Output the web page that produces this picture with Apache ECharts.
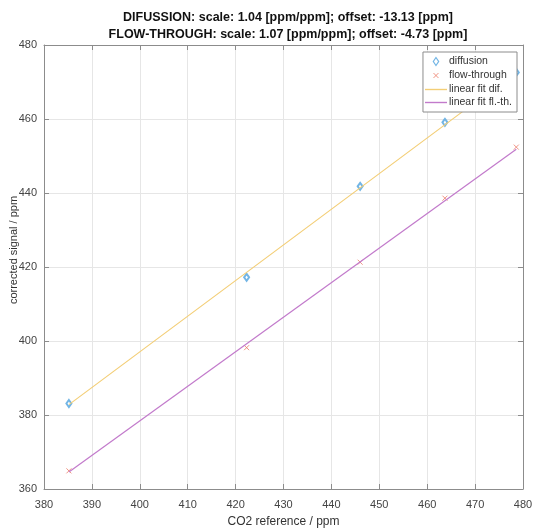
<!DOCTYPE html>
<html><head><meta charset="utf-8">
<script src="https://cdn.jsdelivr.net/npm/echarts@6/dist/echarts.min.js"></script>
<style>html,body{margin:0;padding:0;background:#fff}#c{width:534px;height:528px}</style>
</head><body><div id="c"></div>
<script>
var titleLines = ['DIFUSSION: scale: 1.04 [ppm/ppm]; offset: -13.13 [ppm]', 'FLOW-THROUGH: scale: 1.07 [ppm/ppm]; offset: -4.73 [ppm]'];
var xTicks = [380, 390, 400, 410, 420, 430, 440, 450, 460, 470, 480];
var yTicks = [360, 380, 400, 420, 440, 460, 480];
var refX = [385.2, 422.3, 446.0, 463.7, 478.6];
var diffusion = [383.1, 417.2, 441.8, 459.1, 472.6];
var flowThrough = [364.9, 398.2, 421.3, 438.6, 452.4];
var fitDifX = [385.2, 478.6];
var fitDifY = [382.8, 472.8];
var fitFlowX = [385.2, 478.6];
var fitFlowY = [364.6, 451.8];

function pairs(xs, ys){ return xs.map(function(x,i){ return [x, ys[i]]; }); }
var font = 'Liberation Sans, Arial, Helvetica, sans-serif';
var axisCol = '#8c8c8c';
var cDif = '#4FA3DE', cFlow = '#EB7B66', cFitDif = '#F3CE76', cFitFlow = '#C27ACB';
var chart = echarts.init(document.getElementById('c'), null, {renderer:'canvas'});
var xAxisBase = {type:'value', min:xTicks[0], max:xTicks[xTicks.length-1], interval:10,
  axisLine:{show:true, onZero:false, lineStyle:{color:axisCol, width:1}},
  axisTick:{show:true, inside:true, length:5, lineStyle:{color:axisCol}},
  splitLine:{show:false}};
var yAxisBase = {type:'value', min:yTicks[0], max:yTicks[yTicks.length-1], interval:20,
  axisLine:{show:true, onZero:false, lineStyle:{color:axisCol, width:1}},
  axisTick:{show:true, inside:true, length:5, lineStyle:{color:axisCol}},
  splitLine:{show:false}};
var lineIcon = 'path://M0,0 L22,0 L22,1.4 L0,1.4 Z';
chart.setOption({
  animation:false,
  backgroundColor:'#fff',
  title:{text:titleLines.join('\n'), left:283, top:4, textAlign:'center',
    textStyle:{fontFamily:font, fontSize:12.5, fontWeight:'bold', color:'#111', lineHeight:17}},
  grid:{left:44, right:11, top:45, bottom:39, containLabel:false, outerBoundsMode:'none'},
  legend:{orient:'vertical', right:17, top:52, backgroundColor:'#fff', borderColor:'#8c8c8c', borderWidth:1,
    padding:[4,5,4,2], itemGap:2, itemWidth:22, itemHeight:8,
    textStyle:{fontFamily:font, fontSize:10.5, color:'#333', padding:[0,0,0,-3]},
    data:[
      {name:'diffusion', icon:'path://M4,0 L7,4.5 L4,9 L1,4.5 Z', itemStyle:{color:'#fff', borderColor:cDif, borderWidth:1.2}},
      {name:'flow-through', icon:'path://M-3,-3 M13,13 M0,0 L10,10 M10,0 L0,10', itemStyle:{color:'none', borderColor:cFlow, borderWidth:1}},
      {name:'linear fit dif.', icon:lineIcon, itemStyle:{color:cFitDif, borderWidth:0}},
      {name:'linear fit fl.-th.', icon:lineIcon, itemStyle:{color:cFitFlow, borderWidth:0}}
    ]},
  xAxis:[
    Object.assign({}, xAxisBase, {position:'bottom', name:'CO2 reference / ppm', nameLocation:'middle', nameGap:27,
      nameMoveOverlap:false,
      nameTextStyle:{fontFamily:font, fontSize:12, color:'#333'},
      axisLabel:{show:true, fontFamily:font, fontSize:11, color:'#444', margin:10},
      splitLine:{show:true, lineStyle:{color:'#e6e6e6', width:1}}}),
    Object.assign({}, xAxisBase, {position:'top', axisLabel:{show:false}})
  ],
  yAxis:[
    Object.assign({}, yAxisBase, {position:'left', name:'corrected signal / ppm', nameLocation:'middle', nameGap:25,
      nameMoveOverlap:false,
      nameTextStyle:{fontFamily:font, fontSize:11, color:'#333', padding:[0,0,0,34]},
      axisLabel:{show:true, fontFamily:font, fontSize:11, color:'#444', margin:7},
      splitLine:{show:true, lineStyle:{color:'#e6e6e6', width:1}}}),
    Object.assign({}, yAxisBase, {position:'right', axisLabel:{show:false}})
  ],
  series:[
    {name:'diffusion', type:'scatter', data:pairs(refX, diffusion), symbol:'emptyDiamond', symbolSize:[5,7],
      itemStyle:{color:cDif, borderColor:cDif, borderWidth:1}, z:2},
    {name:'flow-through', type:'scatter', data:pairs(refX, flowThrough),
      symbol:'path://M0,0 L10,10 M10,0 L0,10', symbolSize:5,
      itemStyle:{color:'none', borderColor:cFlow, borderWidth:1}, z:2},
    {name:'linear fit dif.', type:'line', data:pairs(fitDifX, fitDifY), symbol:'none',
      lineStyle:{color:cFitDif, width:1.2}, itemStyle:{color:cFitDif}, z:3},
    {name:'linear fit fl.-th.', type:'line', data:pairs(fitFlowX, fitFlowY), symbol:'none',
      lineStyle:{color:cFitFlow, width:1.2}, itemStyle:{color:cFitFlow}, z:3}
  ]
});
</script></body></html>
